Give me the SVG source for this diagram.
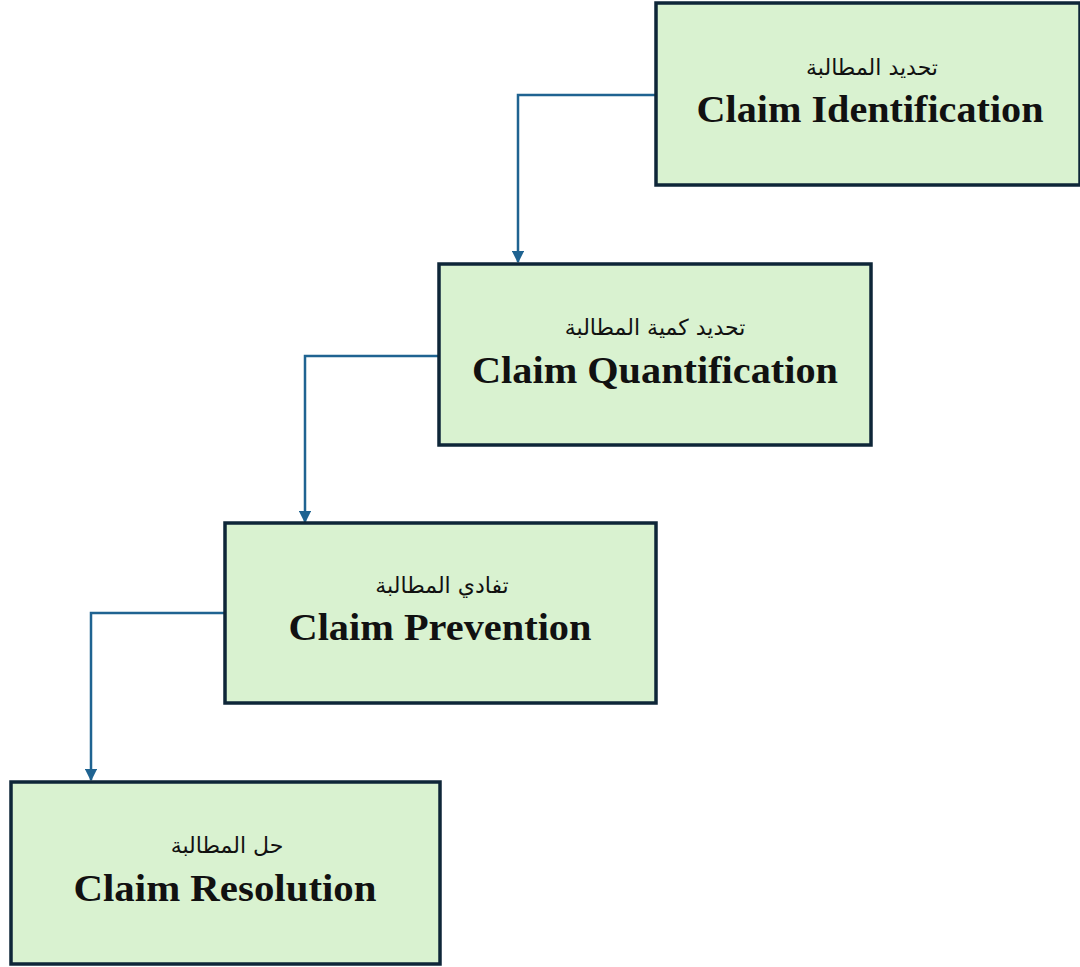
<svg xmlns="http://www.w3.org/2000/svg" width="1080" height="967" viewBox="0 0 1080 967">
<defs>
<style>
.box{fill:#d9f2d0;stroke:#0e2638;stroke-width:3.5}
.ar{font-family:"DejaVu Sans","Noto Sans",sans-serif;font-size:22px;fill:#111;text-anchor:middle}
.en{font-family:"Liberation Serif",serif;font-weight:bold;font-size:37px;fill:#111;text-anchor:middle}
.conn{fill:none;stroke:#1f6391;stroke-width:2.5}
</style>
<marker id="arr" viewBox="0 0 10 10" refX="9" refY="5" markerWidth="5" markerHeight="5" orient="auto" markerUnits="strokeWidth">
<path d="M0,0 L10,5 L0,10 z" fill="#1f6391"/>
</marker>
</defs>
<rect width="1080" height="967" fill="#ffffff"/>
<g id="connectors">
<path class="conn" d="M656,95 H518 V262" marker-end="url(#arr)"/>
<path class="conn" d="M439,356 H305 V522" marker-end="url(#arr)"/>
<path class="conn" d="M225,613 H91 V780" marker-end="url(#arr)"/>
</g>
<g id="node1">
<rect class="box" x="656" y="3" width="424" height="182"/>
<text class="ar" x="872" y="75" direction="rtl">تحديد المطالبة</text>
<text class="en" x="870" y="122" textLength="347" lengthAdjust="spacingAndGlyphs">Claim Identification</text>
</g>
<g id="node2">
<rect class="box" x="439" y="264" width="432" height="181"/>
<text class="ar" x="655" y="335" direction="rtl">تحديد كمية المطالبة</text>
<text class="en" x="655" y="383" textLength="366" lengthAdjust="spacingAndGlyphs">Claim Quantification</text>
</g>
<g id="node3">
<rect class="box" x="225" y="523" width="431" height="180"/>
<text class="ar" x="442" y="593" direction="rtl">تفادي المطالبة</text>
<text class="en" x="440" y="640" textLength="303" lengthAdjust="spacingAndGlyphs">Claim Prevention</text>
</g>
<g id="node4">
<rect class="box" x="11" y="782" width="429" height="182"/>
<text class="ar" x="227" y="853" direction="rtl">حل المطالبة</text>
<text class="en" x="225" y="901" textLength="303" lengthAdjust="spacingAndGlyphs">Claim Resolution</text>
</g>
</svg>
